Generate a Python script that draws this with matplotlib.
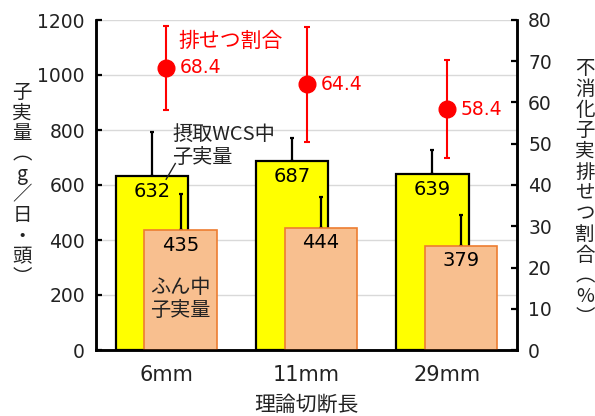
import matplotlib
matplotlib.use("Agg")
import matplotlib.pyplot as plt
import numpy as np

plt.rcParams['font.family'] = ['Noto Sans CJK JP', 'DejaVu Sans']

# Data
categories = ["6mm", "11mm", "29mm"]
intake_grain = [632, 687, 639]          # 摂取WCS中子実量 (g/日・頭)
intake_err = [162, 85, 88]
feces_grain = [435, 444, 379]           # ふん中子実量 (g/日・頭)
feces_err = [131, 113, 112]
excretion_rate = [68.4, 64.4, 58.4]     # 不消化子実排せつ割合 (%)
excretion_err = [10.1, 14.0, 11.8]

left_ticks = [0, 200, 400, 600, 800, 1000, 1200]
right_ticks = [0, 10, 20, 30, 40, 50, 60, 70, 80]

W, H = 595, 416
fig = plt.figure(figsize=(W / 100, H / 100), dpi=100)
ax = fig.add_axes([96 / W, 1 - 350 / H, (517 - 96) / W, (350 - 20) / H])
ax2 = ax.twinx()

x = np.arange(len(categories))
bw = 0.515
off = 0.103

yellow = "#FFFF00"
orange_face = "#F8BF8F"
orange_edge = "#ED7D31"
red = "#FF0000"
ink = "#222222"

# grid
ax.set_axisbelow(True)
ax.yaxis.grid(True, color="#D9D9D9", linewidth=1.0)

# intake bars with upper error bars
ax.bar(x - off, intake_grain, width=bw, color=yellow, edgecolor="black",
       linewidth=1.6, zorder=2)
ax.errorbar(x - off, intake_grain, yerr=[np.zeros(3), intake_err], fmt="none",
            ecolor="black", elinewidth=1.6, capsize=1.5, capthick=1.6, zorder=1.5)

# feces bars with upper error bars
ax.errorbar(x + off, feces_grain, yerr=[np.zeros(3), feces_err], fmt="none",
            ecolor="black", elinewidth=1.6, capsize=1.5, capthick=1.6, zorder=3)
ax.bar(x + off, feces_grain, width=bw, color=orange_face, edgecolor=orange_edge,
       linewidth=1.2, zorder=4)

num_fs = 14
for xi, v in zip(x, intake_grain):
    ax.text(xi - off, v - 20, f"{v}", ha="center", va="top", fontsize=num_fs,
            family="DejaVu Sans", color="black", zorder=5)
for xi, v in zip(x, feces_grain):
    ax.text(xi + off, v - 20, f"{v}", ha="center", va="top", fontsize=num_fs,
            family="DejaVu Sans", color="black", zorder=5)

ax.set_xlim(-0.5, len(categories) - 0.5)
ax.set_ylim(0, 1200)
ax.set_yticks(left_ticks)
ax.set_yticklabels([str(t) for t in left_ticks], family="DejaVu Sans")
ax.set_xticks(x)
ax.set_xticklabels(categories, family="DejaVu Sans", fontsize=15)
ax.tick_params(axis="x", length=0, pad=11, colors=ink)
ax.tick_params(axis="y", direction="in", length=4, width=1.6, labelsize=13.5,
               pad=8, colors="black", labelcolor=ink)

# excretion rate on the right axis
ax2.errorbar(x, excretion_rate, yerr=excretion_err, fmt="o", color=red,
             ecolor=red, elinewidth=1.5, capsize=2.5, capthick=1.5,
             markersize=12, zorder=6)
for xi, v in zip(x, excretion_rate):
    ax2.text(xi + 0.1, v, f"{v}", ha="left", va="center", fontsize=13.5,
             family="DejaVu Sans", color=red)
ax2.text(0 + 0.085, 75.0, "排せつ割合", ha="left", va="center", fontsize=15,
         color=red)
ax2.set_ylim(0, 80)
ax2.set_yticks(right_ticks)
ax2.set_yticklabels([str(t) for t in right_ticks], family="DejaVu Sans")
ax2.tick_params(axis="y", direction="in", length=4, width=1.6, labelsize=13.5,
                pad=8, colors="black", labelcolor=ink)

for a in (ax, ax2):
    a.spines["top"].set_visible(False)
    for s in ("left", "right", "bottom"):
        a.spines[s].set_linewidth(1.8)
        a.spines[s].set_color("black")

# annotations
ax.text(0.045, 822, "摂取WCS中\n子実量", ha="left", va="top", fontsize=14.5,
        color=ink, linespacing=1.1, zorder=7)
ax.plot([0.0, 0.065], [621, 678], color=ink, linewidth=1.0, zorder=7)
ax.text(0 + off, 185, "ふん中\n子実量", ha="center", va="center", fontsize=14.5,
        color=ink, linespacing=1.1, zorder=7)

# axis titles (vertical, upright characters)
left_label = ["子", "実", "量", "︵", "g", "／", "日", "・", "頭", "︶"]
fig.text(22 / W, 1 - 185 / H, "\n".join(left_label), ha="center", va="center",
         fontsize=14, color=ink, linespacing=0.97)
right_label = ["不", "消", "化", "子", "実", "排", "せ", "つ", "割", "合", "︵", "%", "︶"]
fig.text(585 / W, 1 - 193 / H, "\n".join(right_label), ha="center", va="center",
         fontsize=14, color=ink, linespacing=0.98)
fig.text(0.5 * (96 + 517) / W, 1 - 405 / H, "理論切断長", ha="center",
         va="center", fontsize=15, color=ink)

fig.savefig("out.png", dpi=100)
